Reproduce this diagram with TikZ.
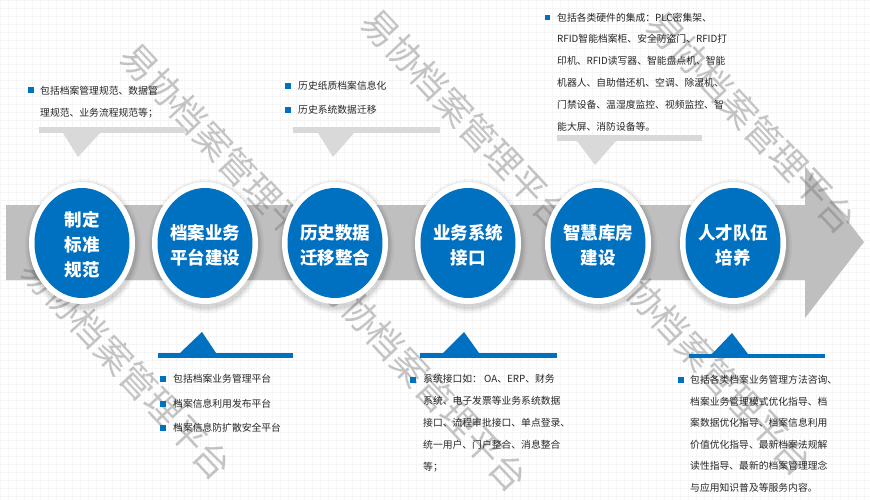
\documentclass[tikz,border=0pt]{standalone}
\usepackage{fontspec}
\newfontfamily\cjk{Noto Sans CJK SC}
\usetikzlibrary{shapes.geometric}
\definecolor{myblue}{HTML}{0070C0}
\definecolor{bandgray}{HTML}{BFBFBF}
\definecolor{bargray}{HTML}{D9D9D9}
\definecolor{txtc}{HTML}{262626}
\definecolor{wmc}{HTML}{707070}
\newcommand{\dcirc}[3]{%
  \foreach \a/\b/\o in {58/67/0.04,56/65/0.05,54.5/63/0.07}{%
    \fill[black,opacity=\o] (#2+1,246) ellipse [x radius=\a pt, y radius=\b pt];}
  \node[ringshape] (r#1) at (#2,243) {};
  \node[bluedisc] (b#1) at (#2,243) {};
  \node[ctext] (t#1) at (#2,245) {#3};
}
\begin{document}
\begin{tikzpicture}[x=1pt,y=-1pt,
  ringshape/.style={ellipse,fill=white,minimum width=106pt,minimum height=122pt,inner sep=0pt},
  bluedisc/.style={ellipse,fill=myblue,minimum width=95pt,minimum height=110pt,inner sep=0pt},
  ctext/.style={text=white,font=\cjk\bfseries\fontsize{17.5}{25}\selectfont,align=center,inner sep=0pt},
  ln/.style={anchor=base west,inner sep=0pt,text=txtc,font=\cjk\fontsize{9.8}{12}\selectfont},
  bul/.style={rectangle,fill=myblue,minimum size=5.5pt,inner sep=0pt},
  wm/.style={text=wmc,opacity=0.4,font=\cjk\fontsize{36}{36}\selectfont,inner sep=0pt,rotate=-47},
]
\useasboundingbox (0,0) rectangle (870,500);
\fill[white] (0,0) rectangle (870,500);
\draw[black!4,line width=0.3pt,step=8pt] (0,0) grid (870,500);

% main arrow band
\fill[bandgray] (6,205) -- (805,205) -- (805,166) -- (864,242) -- (805,318) -- (805,280) -- (6,280) -- cycle;

% watermark
\node[wm] (w1) at (226,154) {易协档案管理平台};
\node[wm] (w2) at (467,120) {易协档案管理平台};
\node[wm] (w3) at (752,122) {易协档案管理平台};
\node[wm] (w4) at (127,368) {易协档案管理平台};
\node[wm] (w5) at (423,380) {易协档案管理平台};
\node[wm] (w6) at (708,364) {易协档案管理平台};

% top pointers (gray)
\fill[bargray] (39,127) rectangle (185,133);
\fill[bargray] (63,133) -- (100,133) -- (78,157) -- cycle;
\fill[bargray] (293,127) rectangle (440,133);
\fill[bargray] (318,133) -- (354,133) -- (333,157) -- cycle;
\fill[bargray] (557,135) rectangle (702,141);
\fill[bargray] (577,141) -- (616,141) -- (595,165) -- cycle;

% bottom pointers (blue)
\fill[myblue] (158,353) rectangle (293,358);
\fill[myblue] (180,353) -- (216,353) -- (202,332) -- cycle;
\fill[myblue] (420,353) rectangle (557,358);
\fill[myblue] (443,353) -- (479,353) -- (464,332) -- cycle;
\fill[myblue] (689,354) rectangle (825,358);
\fill[myblue] (712,354) -- (748,354) -- (732,333) -- cycle;

% top box 1
\node[bul] (ba1) at (31,90) {};
\node[ln] (la1) at (40,94.2) {包括档案管理规范、数据管};
\node[ln] (la2) at (40,116.2) {理规范、业务流程规范等；};
% top box 2
\node[bul] (bb1) at (288,86) {};
\node[ln] (lb1) at (298,89.7) {历史纸质档案信息化};
\node[bul] (bb2) at (288,110) {};
\node[ln] (lb2) at (298,113.7) {历史系统数据迁移};
% top box 3
\node[bul] (bc1) at (547.5,17.5) {};
\node[ln] (lc1) at (557,21.2) {包括各类硬件的集成：PLC密集架、};
\node[ln] (lc2) at (557,43.0) {RFID智能档案柜、安全防盗门、RFID打};
\node[ln] (lc3) at (557,64.8) {印机、RFID读写器、智能盘点机、智能};
\node[ln] (lc4) at (557,86.6) {机器人、自助借还机、空调、除湿机、};
\node[ln] (lc5) at (557,108.4) {门禁设备、温湿度监控、视频监控、智};
\node[ln] (lc6) at (557,130.2) {能大屏、消防设备等。};

% bottom box 1
\node[bul] (bd1) at (163,379) {};
\node[ln] (ld1) at (173,382.7) {包括档案业务管理平台};
\node[bul] (bd2) at (163,404) {};
\node[ln] (ld2) at (173,407.7) {档案信息利用发布平台};
\node[bul] (bd3) at (163,428) {};
\node[ln] (ld3) at (173,431.7) {档案信息防扩散安全平台};
% bottom box 2
\node[bul] (be1) at (413,380) {};
\node[ln] (le1) at (423,382.7) {系统接口如： OA、ERP、财务};
\node[ln] (le2) at (423,404.7) {系统、电子发票等业务系统数据};
\node[ln] (le3) at (423,426.7) {接口、流程审批接口、单点登录、};
\node[ln] (le4) at (423,448.7) {统一用户、门户整合、消息整合};
\node[ln] (le5) at (423,470.7) {等；};
% bottom box 3
\node[bul] (bf1) at (681,380) {};
\node[ln] (lf1) at (690,383.7) {包括各类档案业务管理方法咨询、};
\node[ln] (lf2) at (690,405.2) {档案业务管理模式优化指导、档};
\node[ln] (lf3) at (690,426.7) {案数据优化指导、档案信息利用};
\node[ln] (lf4) at (690,448.2) {价值优化指导、最新档案法规解};
\node[ln] (lf5) at (690,469.7) {读性指导、最新的档案管理理念};
\node[ln] (lf6) at (690,491.2) {与应用知识普及等服务内容。};

% circles
\dcirc{1}{82}{制定\\标准\\规范}
\dcirc{2}{205}{档案业务\\平台建设}
\dcirc{3}{335}{历史数据\\迁移整合}
\dcirc{4}{468}{业务系统\\接口}
\dcirc{5}{598}{智慧库房\\建设}
\dcirc{6}{733}{人才队伍\\培养}
\end{tikzpicture}
\end{document}
